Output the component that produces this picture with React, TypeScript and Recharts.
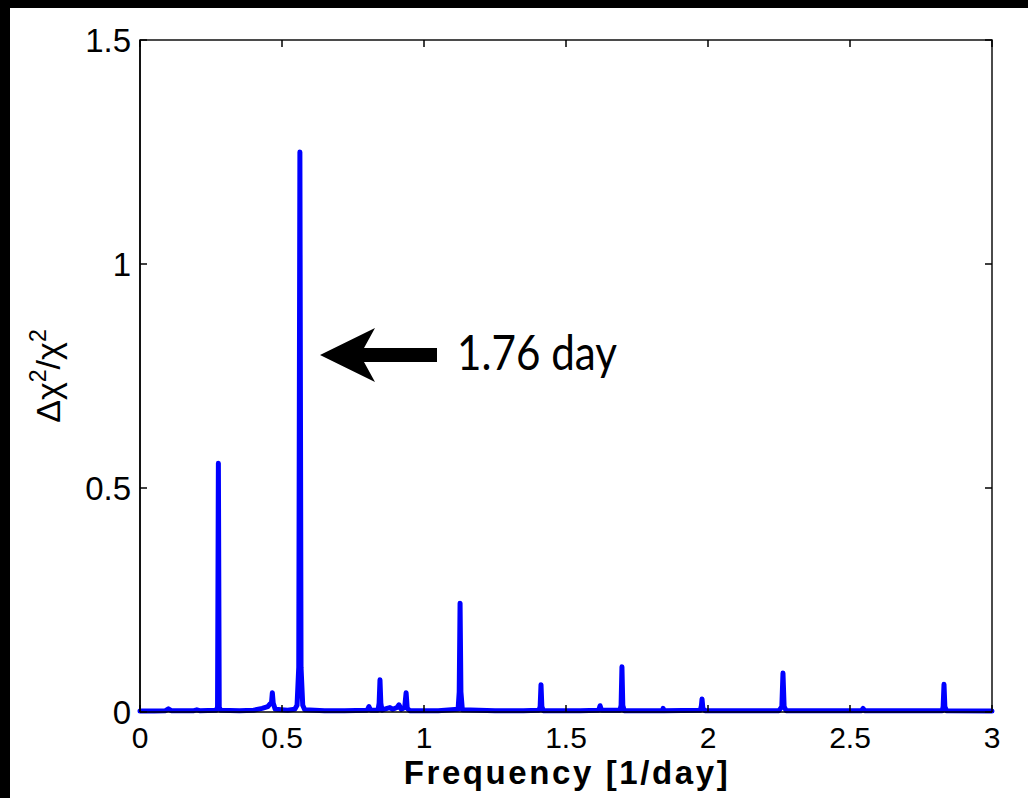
import { Line, LineChart, XAxis, YAxis } from "recharts";

// periodogram
const freq = [
  0, 0.05, 0.09, 0.1, 0.11, 0.19, 0.2, 0.21,
  0.268, 0.273, 0.276, 0.279, 0.284,
  0.35, 0.4, 0.43, 0.45, 0.458, 0.463, 0.466, 0.469, 0.476,
  0.52, 0.545, 0.553, 0.559, 0.563, 0.567, 0.573, 0.58,
  0.65, 0.72, 0.8, 0.806, 0.812,
  0.838, 0.842, 0.845, 0.848, 0.852,
  0.87, 0.88, 0.89, 0.905, 0.912, 0.92, 0.932, 0.937, 0.941, 0.95,
  1.05, 1.12, 1.124, 1.127, 1.13, 1.135,
  1.25, 1.35, 1.405, 1.409, 1.412, 1.415, 1.42,
  1.55, 1.615, 1.62, 1.625,
  1.69, 1.694, 1.697, 1.7, 1.705,
  1.84, 1.842, 1.845,
  1.973, 1.977, 1.979, 1.982, 1.99,
  2.25, 2.26, 2.264, 2.268, 2.275,
  2.54, 2.546, 2.552,
  2.825, 2.828, 2.831, 2.834, 2.84, 3,
];
const chi = [
  0.002, 0.002, 0.003, 0.007, 0.003, 0.003, 0.005, 0.003,
  0.004, 0.01, 0.555, 0.01, 0.004,
  0.003, 0.004, 0.008, 0.012, 0.018, 0.02, 0.043, 0.02, 0.006,
  0.004, 0.006, 0.015, 0.1, 1.25, 0.1, 0.015, 0.005,
  0.003, 0.003, 0.004, 0.012, 0.004,
  0.004, 0.02, 0.072, 0.02, 0.004,
  0.008, 0.01, 0.006, 0.01, 0.016, 0.006, 0.01, 0.043, 0.008, 0.003,
  0.003, 0.006, 0.045, 0.243, 0.045, 0.005,
  0.003, 0.003, 0.004, 0.012, 0.061, 0.012, 0.003,
  0.003, 0.004, 0.014, 0.004,
  0.004, 0.015, 0.101, 0.015, 0.003,
  0.003, 0.008, 0.003,
  0.004, 0.015, 0.029, 0.008, 0.003,
  0.003, 0.012, 0.087, 0.012, 0.003,
  0.003, 0.008, 0.003,
  0.003, 0.012, 0.062, 0.012, 0.003, 0.002,
];
const xTicks = [0, 0.5, 1, 1.5, 2, 2.5, 3];
const yTicks = [0, 0.5, 1, 1.5];

const data = freq.map((f, i) => ({ f, v: chi[i] }));

const W = 1028;
const H = 798;
const LEFT = 140;
const RIGHT = 992;
const TOP = 40;
const BOTTOM = 712;
const FONT = "'Liberation Sans', Arial, Helvetica, sans-serif";

function XTick(props: any) {
  const { x, payload } = props;
  return (
    <g>
      <line x1={x} x2={x} y1={BOTTOM} y2={BOTTOM - 7} stroke="#000" strokeWidth={1.5} />
      <line x1={x} x2={x} y1={TOP} y2={TOP + 7} stroke="#000" strokeWidth={1.5} />
      <text x={x} y={BOTTOM + 36} textAnchor="middle" fontFamily={FONT} fontSize={30} fill="#000">
        {String(payload.value)}
      </text>
    </g>
  );
}

function YTick(props: any) {
  const { y, payload } = props;
  return (
    <g>
      <line x1={LEFT} x2={LEFT + 7} y1={y} y2={y} stroke="#000" strokeWidth={1.5} />
      <line x1={RIGHT} x2={RIGHT - 7} y1={y} y2={y} stroke="#000" strokeWidth={1.5} />
      <text x={LEFT - 9} y={y + 12} textAnchor="end" fontFamily={FONT} fontSize={33} fill="#000">
        {String(payload.value)}
      </text>
    </g>
  );
}

export default function App() {
  return (
    <div style={{ position: "fixed", left: 0, top: 0, width: W, height: H, background: "#000" }}>
      <div style={{ position: "absolute", left: 10, top: 8, width: W - 10, height: H - 8, background: "#fff" }} />
      <svg width={W} height={H} style={{ position: "absolute", left: 0, top: 0 }}>
        <polyline
          points={`${LEFT},${BOTTOM} ${LEFT},${TOP} ${RIGHT},${TOP} ${RIGHT},${BOTTOM}`}
          fill="none"
          stroke="#111"
          strokeWidth={1.5}
        />
        {/* annotation arrow */}
        <polygon
          points="320,355 375,328 364,348 437,348 437,362 364,362 375,382"
          fill="#000"
        />
        <text x={457} y={370} fontFamily="Lato, 'Open Sans', sans-serif" fontSize={48} textLength={160} lengthAdjust="spacingAndGlyphs" fill="#000">
          1.76 day
        </text>
        <text
          x={567}
          y={784}
          textAnchor="middle"
          fontFamily={FONT}
          fontWeight="bold"
          fontSize={33}
          letterSpacing={2.6}
          fill="#000"
        >
          Frequency [1/day]
        </text>
        <text
          x={60}
          y={376}
          transform="rotate(-90, 60, 376)"
          textAnchor="middle"
          fontFamily={FONT}
          fontSize={34}
          fill="#000"
        >
          <tspan>Δχ</tspan>
          <tspan fontSize={23} dy={-14}>2</tspan>
          <tspan dy={14}>/χ</tspan>
          <tspan fontSize={23} dy={-14}>2</tspan>
        </text>
      </svg>
      <div style={{ position: "absolute", left: 0, top: 0 }}>
        <LineChart width={W} height={H} data={data} margin={{ top: TOP, right: W - RIGHT, bottom: 46, left: 80 }}>
          <XAxis
            dataKey="f"
            type="number"
            domain={[0, 3]}
            ticks={xTicks}
            tick={<XTick />}
            tickLine={false}
            axisLine={{ stroke: "#000", strokeWidth: 1.5 }}
            height={40}
            interval={0}
          />
          <YAxis
            type="number"
            domain={[0, 1.5]}
            ticks={yTicks}
            tick={<YTick />}
            tickLine={false}
            axisLine={{ stroke: "#000", strokeWidth: 1.5 }}
            width={60}
            interval={0}
          />
          <Line
            type="linear"
            dataKey="v"
            stroke="#0000ff"
            strokeWidth={5}
            strokeLinejoin="round"
            strokeLinecap="round"
            dot={false}
            activeDot={false}
            isAnimationActive={false}
          />
        </LineChart>
      </div>
    </div>
  );
}
